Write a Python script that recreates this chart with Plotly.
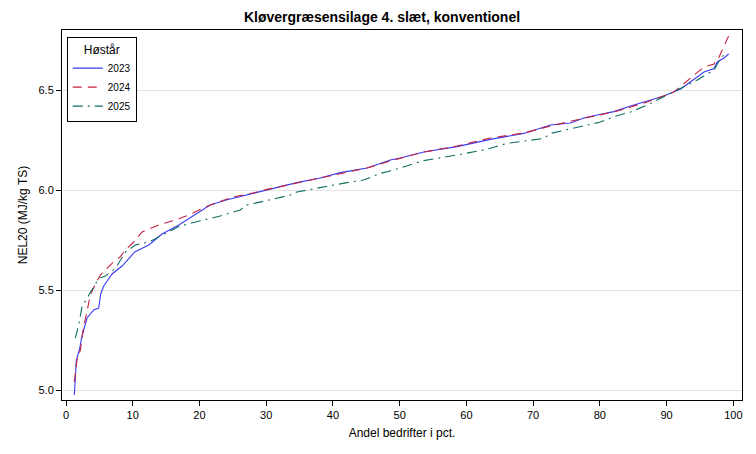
import plotly.graph_objects as go

# 2023
x_2023 = [1.25, 1.55, 2.0, 2.4, 3.15, 4.15, 4.9, 5.2, 5.65, 6.9, 8.4, 10.3, 12.4, 14.4, 16.9, 19.3, 21.6,
          24.0, 27.0, 30.1, 34.6, 38.1, 41.1, 45.1, 48.6, 50.1, 53.6, 58.6, 63.6, 68.6, 72.6, 75.6, 77.6,
          79.6, 82.1, 84.6, 87.1, 89.6, 92.1, 93.6, 95.6, 97.1, 97.6, 98.6, 99.3]
y_2023 = [4.975, 5.15, 5.2, 5.27, 5.36, 5.40, 5.41, 5.48, 5.52, 5.58, 5.62, 5.69, 5.725, 5.78, 5.825, 5.875, 5.925,
          5.95, 5.975, 6.003, 6.037, 6.06, 6.087, 6.11, 6.15, 6.16, 6.19, 6.217, 6.253, 6.283, 6.325, 6.335, 6.36,
          6.375, 6.392, 6.42, 6.445, 6.47, 6.505, 6.54, 6.59, 6.607, 6.64, 6.66, 6.68]

# 2024
x_2024 = [1.25, 1.65, 2.15, 2.65, 3.0, 3.65, 4.4, 5.15, 5.9, 6.9, 8.15, 8.9, 10.15, 11.4, 13.9, 16.4, 18.4,
          20.4, 22.0, 25.0, 28.0, 30.1, 34.6, 38.1, 41.1, 45.1, 48.6, 53.6, 58.6, 63.6, 68.6, 72.6, 77.1,
          82.1, 87.1, 91.1, 93.6, 95.6, 97.1, 97.8, 98.6, 99.3]
y_2024 = [5.04, 5.15, 5.20, 5.32, 5.37, 5.475, 5.53, 5.575, 5.60, 5.633, 5.667, 5.70, 5.74, 5.79, 5.825, 5.85, 5.875,
          5.908, 5.93, 5.965, 5.985, 6.003, 6.035, 6.06, 6.085, 6.11, 6.145, 6.19, 6.22, 6.26, 6.285, 6.32, 6.355,
          6.39, 6.44, 6.49, 6.56, 6.615, 6.63, 6.66, 6.72, 6.77]

# 2025
x_2025 = [1.4, 1.9, 2.4, 3.15, 3.9, 4.9, 5.9, 7.4, 8.9, 10.4, 12.4, 14.4, 16.9, 19.4, 21.9, 23.1, 26.1, 27.1,
          31.1, 33.6, 34.6, 38.1, 42.1, 44.6, 47.1, 49.1, 53.6, 58.6, 62.6, 66.1, 71.6, 72.6, 76.6, 80.1,
          82.1, 84.6, 87.1, 89.6, 92.1, 94.6, 97.1, 98.1, 99.1]
y_2025 = [5.26, 5.325, 5.417, 5.46, 5.50, 5.558, 5.57, 5.608, 5.69, 5.725, 5.74, 5.775, 5.817, 5.84, 5.858, 5.87, 5.90,
          5.925, 5.955, 5.975, 5.99, 6.013, 6.037, 6.05, 6.083, 6.10, 6.147, 6.175, 6.20, 6.233, 6.258, 6.283, 6.313,
          6.34, 6.367, 6.39, 6.425, 6.467, 6.51, 6.55, 6.60, 6.66, 6.69]

x_ticks = [0, 10, 20, 30, 40, 50, 60, 70, 80, 90, 100]
y_ticks = [5.0, 5.5, 6.0, 6.5]

FONT = "Liberation Sans, Arial, sans-serif"

fig = go.Figure()
fig.add_trace(go.Scatter(x=x_2023, y=y_2023, mode="lines", name="2023",
                         line=dict(color="#3a3af5", width=1.1)))
fig.add_trace(go.Scatter(x=x_2024, y=y_2024, mode="lines", name="2024",
                         line=dict(color="#c4213d", width=1.1, dash="9px,6px")))
fig.add_trace(go.Scatter(x=x_2025, y=y_2025, mode="lines", name="2025",
                         line=dict(color="#0e6e62", width=1.1, dash="10px,5px,2px,5px")))

fig.update_layout(
    width=748, height=446,
    margin=dict(l=54, r=14, t=22, b=54),
    paper_bgcolor="white", plot_bgcolor="white",
    font=dict(family=FONT, size=11, color="black"),
    title=dict(text="<b>Kløvergræsensilage 4. slæt, konventionel</b>", x=0.5, xanchor="center",
               y=0.98, yanchor="middle", font=dict(size=14, family=FONT)),
    showlegend=True,
    legend=dict(x=0.007, y=0.981, xanchor="left", yanchor="top",
                bordercolor="black", borderwidth=1, bgcolor="white",
                font=dict(size=10), tracegroupgap=0,
                title=dict(text="Høstår", side="top center", font=dict(size=12))),
)
fig.update_xaxes(range=[-0.6, 101.3], tickvals=x_ticks, ticks="outside", ticklen=5, tickcolor="black",
                 showline=True, linecolor="black", linewidth=1, mirror=True, showgrid=False, zeroline=False,
                 title=dict(text="Andel bedrifter i pct.", font=dict(size=12), standoff=8))
fig.update_yaxes(range=[4.95, 6.8], tickvals=y_ticks, tickformat=".1f", ticks="outside", ticklen=5,
                 tickcolor="black", showline=True, linecolor="black", linewidth=1, mirror=True,
                 showgrid=True, gridcolor="#e2e2e2", gridwidth=1, zeroline=False,
                 title=dict(text="NEL20 (MJ/kg TS)", font=dict(size=12), standoff=8))

fig.write_html("out.html")
